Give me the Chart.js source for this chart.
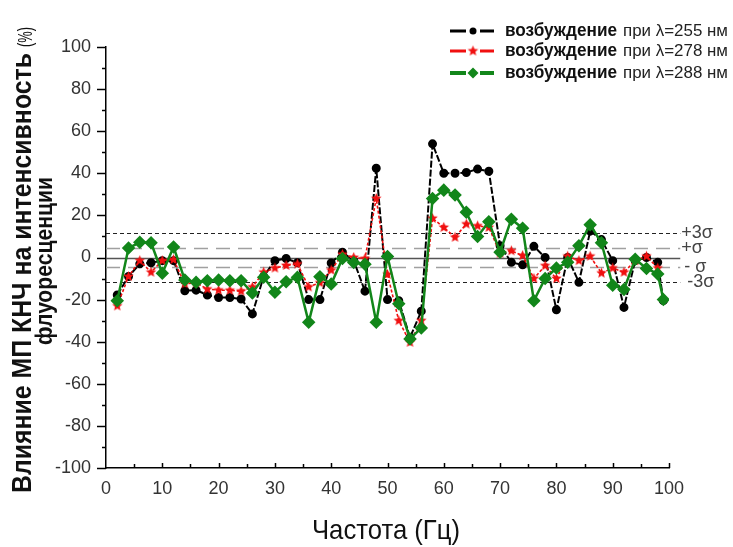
<!DOCTYPE html>
<html>
<head>
<meta charset="utf-8">
<script src="https://cdn.jsdelivr.net/npm/chart.js@4.4.0/dist/chart.umd.min.js"></script>
<style>
	html, body { margin: 0; padding: 0; background: #fff; }
</style>
</head>
<body>
<canvas id="chart" width="733" height="547"></canvas>
<script>
// Data
const freq = [2, 4, 6, 8, 10, 12, 14, 16, 18, 20, 22, 24, 26, 28, 30, 32, 34, 36, 38, 40, 42, 44, 46, 48, 50,
	52, 54, 56, 58, 60, 62, 64, 66, 68, 70, 72, 74, 76, 78, 80, 82, 84, 86, 88, 90, 92, 94, 96, 98, 99];
const exc255 = [-17.8, -9, -3, -2.5, -1.5, -1.5, -15.8, -15.5, -17.8, -19, -19, -19.7, -26.8, -9, -1.5, -0.5, -2.5, -20, -20, -2.6, 2.5, -1.5, -16, 42.4, -20,
	-20.5, -38, -25.5, 54, 40, 40, 40.4, 42, 41, 5.6, -2.3, -3.5, 5.3, 0, -24.8, 0, -11.8, 12.5, 8.5, -1.5, -23.7, -1.5, 0, -2.3, -20.5];
const exc278 = [-23, -9, -1.5, -7, -1.5, -1, -12.5, -12, -15, -15.5, -15.6, -16, -14, -7, -5, -3.8, -3.1, -14, -12, -6, 1.5, 0, -0.5, 28, -8,
	-30, -40.3, -30, 18.6, 14.3, 9.6, 15.9, 15, 14.3, 2, 3.2, 0.9, -10, -3.9, -10, 0.6, -1.5, 0.6, -7.4, -5, -7, -1.5, 0.6, -5, null];
const exc288 = [-20.5, 4.5, 7.2, 7, -7.5, 5, -10.7, -11.8, -11, -10.7, -11, -11, -16.9, -9.4, -16.5, -11.5, -9.4, -30.8, -9.1, -12.6, -0.5, -2.4, -3.2, -30.8, 0.5,
	-22, -38.7, -33.5, 28, 32, 29.7, 21.5, 10, 17, 2.5, 18.2, 13.9, -20.5, -10, -5, -2.3, 5.6, 15.6, 7, -13.2, -15.2, -0.8, -5.2, -7.8, -20];

const legendBold = 'возбуждение';
const legendRest = ['при λ=255 нм', 'при λ=278 нм', 'при λ=288 нм'];

const sigmaLevels = [11.5, 4.3, 0, -4.3, -11.8];
const sigmaNames = ['+3σ', '+σ', '', '- σ', '-3σ'];

const xTitle = 'Частота (Гц)';
const yTitleMain = 'Влияние МП КНЧ на интенсивность';
const yTitleUnit = '(%)';
const yTitleSecond = 'флуоресценции';

const FONT = "'Liberation Sans', Arial, sans-serif";

function makeStar (color, r) {
	const c = document.createElement('canvas');
	c.width = c.height = Math.ceil(r * 2 + 2);
	const g = c.getContext('2d');
	g.fillStyle = color;
	g.beginPath();
	for (let i = 0; i < 10; i++) {
		const rad = i % 2 ? r * 0.45 : r;
		const a = -Math.PI / 2 + i * Math.PI / 5;
		g.lineTo(c.width / 2 + rad * Math.cos(a), c.height / 2 + rad * Math.sin(a));
	}
	g.closePath();
	g.fill();
	return c;
}

const redStar = makeStar('#f01010', 5.5);

function toPoints (values) {
	return freq.map((f, i) => ({ x: f, y: values[i] })).filter(p => p.y !== null);
}

// squeeze/stretch text to a given width, like the original picture
function fitText (ctx, text, x, y, font, width) {
	ctx.font = font;
	const w = ctx.measureText(text).width;
	const k = width ? width / w : 1;
	ctx.save();
	ctx.translate(x, y);
	ctx.scale(k, 1);
	ctx.fillText(text, 0, 0);
	ctx.restore();
}

const sigmaLines = {
	id: 'sigmaLines',
	beforeDatasetsDraw (chart) {
		const { ctx, scales: { x, y } } = chart;
		const x0 = x.getPixelForValue(0);
		const x1 = x.getPixelForValue(102);

		ctx.save();
		sigmaLevels.forEach((v, i) => {
			const py = Math.round(y.getPixelForValue(v)) + 0.5;
			if (v === 0) {
				ctx.setLineDash([]);
				ctx.strokeStyle = '#555';
				ctx.lineWidth = 1.5;
			} else if (Math.abs(v) > 8) {
				ctx.setLineDash([4, 3]);
				ctx.strokeStyle = '#222';
				ctx.lineWidth = 1.2;
			} else {
				ctx.setLineDash([14, 8]);
				ctx.strokeStyle = '#a0a0a0';
				ctx.lineWidth = 1.5;
			}
			ctx.beginPath();
			ctx.moveTo(x0, py);
			ctx.lineTo(x1, py);
			ctx.stroke();

			if (sigmaNames[i]) {
				ctx.setLineDash([]);
				ctx.fillStyle = '#444';
				ctx.font = '18px ' + FONT;
				ctx.textBaseline = 'middle';
				ctx.textAlign = 'left';
				ctx.fillText(sigmaNames[i], x1 + 1 + (v < -8 ? 6 : (v < 0 ? 3 : 0)), py);
			}
		});
		ctx.restore();
	}
};

const decorations = {
	id: 'decorations',
	afterDraw (chart) {
		const { ctx, scales: { x, y } } = chart;
		ctx.save();

		// tick marks: y outward, x inward
		ctx.strokeStyle = '#000';
		ctx.lineWidth = 1.5;
		const ax = x.getPixelForValue(0);
		for (let v = -100; v <= 100; v += 10) {
			const py = Math.round(y.getPixelForValue(v)) + 0.5;
			const len = v % 20 === 0 ? 9 : 4;
			ctx.beginPath();
			ctx.moveTo(ax, py);
			ctx.lineTo(ax - len, py);
			ctx.stroke();
		}
		const ay = y.getPixelForValue(-100);
		for (let v = 5; v <= 100; v += 5) {
			const px = Math.round(x.getPixelForValue(v)) + 0.5;
			const len = v % 10 === 0 ? 5 : 4;
			ctx.beginPath();
			ctx.moveTo(px, ay);
			ctx.lineTo(px, ay - len);
			ctx.stroke();
		}

		// legend
		const rows = [31, 51, 73];
		const colors = ['#000', '#f01010', '#12861a'];
		rows.forEach((ry, i) => {
			ctx.strokeStyle = colors[i];
			ctx.fillStyle = colors[i];
			ctx.lineWidth = i == 2 ? 4 : 3;
			ctx.beginPath();
			ctx.moveTo(450, ry);
			ctx.lineTo(466, ry);
			ctx.moveTo(480, ry);
			ctx.lineTo(494, ry);
			ctx.stroke();
			if (i == 0) {
				ctx.beginPath();
				ctx.arc(473, ry, 3.5, 0, Math.PI * 2);
				ctx.fill();
			} else if (i == 1) {
				ctx.drawImage(redStar, 473 - redStar.width / 2, ry - redStar.height / 2);
			} else {
				ctx.beginPath();
				ctx.moveTo(473, ry - 5.5);
				ctx.lineTo(478.5, ry);
				ctx.lineTo(473, ry + 5.5);
				ctx.lineTo(467.5, ry);
				ctx.closePath();
				ctx.fill();
			}
			ctx.fillStyle = '#111';
			ctx.textBaseline = 'middle';
			ctx.textAlign = 'left';
			fitText(ctx, legendBold, 505, ry, 'bold 19px ' + FONT, 112);
			ctx.fillStyle = '#222';
			fitText(ctx, legendRest[i], 623, ry, '17px ' + FONT, 105);
		});

		// x title
		ctx.fillStyle = '#111';
		ctx.textBaseline = 'alphabetic';
		fitText(ctx, xTitle, 312, 539, '28px ' + FONT, 148);

		// y title, rotated, two lines
		ctx.save();
		ctx.translate(0, 260);
		ctx.rotate(-Math.PI / 2);
		ctx.fillStyle = '#111';
		fitText(ctx, yTitleMain, -233, 31, 'bold 27px ' + FONT, 440);
		fitText(ctx, yTitleUnit, 213, 32, '20px ' + FONT, 20);
		fitText(ctx, yTitleSecond, -85, 52, 'bold 24px ' + FONT, 168);
		ctx.restore();

		ctx.restore();
	}
};

new Chart(document.getElementById('chart'), {
	type: 'line',
	data: {
		datasets: [{
			label: legendBold + ' ' + legendRest[0],
			data: toPoints(exc255),
			borderColor: '#000',
			backgroundColor: '#000',
			borderWidth: 2,
			borderDash: [7, 2],
			pointStyle: 'circle',
			pointRadius: 3.5,
			order: 3
		}, {
			label: legendBold + ' ' + legendRest[1],
			data: toPoints(exc278),
			borderColor: '#f01010',
			backgroundColor: '#f01010',
			borderWidth: 1.6,
			borderDash: [3, 2],
			pointStyle: redStar,
			order: 2
		}, {
			label: legendBold + ' ' + legendRest[2],
			data: toPoints(exc288),
			borderColor: '#12861a',
			backgroundColor: '#12861a',
			borderWidth: 2.5,
			pointStyle: 'rectRot',
			pointRadius: 5,
			order: 1
		}]
	},
	options: {
		responsive: false,
		animation: false,
		devicePixelRatio: 1,
		layout: { padding: { top: 47, right: 64, left: 0, bottom: 0 } },
		plugins: {
			legend: { display: false },
			tooltip: { enabled: false }
		},
		scales: {
			x: {
				type: 'linear',
				min: 0,
				max: 100,
				ticks: { stepSize: 10, padding: 10, color: '#333', font: { family: FONT, size: 18 } },
				grid: { display: false, drawTicks: false },
				border: { color: '#000', width: 1.5 },
				afterFit: scale => { scale.height = 79; }
			},
			y: {
				min: -100,
				max: 100,
				ticks: { stepSize: 20, padding: 15, color: '#333', font: { family: FONT, size: 18 } },
				grid: { display: false, drawTicks: false },
				border: { color: '#000', width: 1.5 },
				afterFit: scale => { scale.width = 106; }
			}
		}
	},
	plugins: [sigmaLines, decorations]
});
</script>
</body>
</html>
